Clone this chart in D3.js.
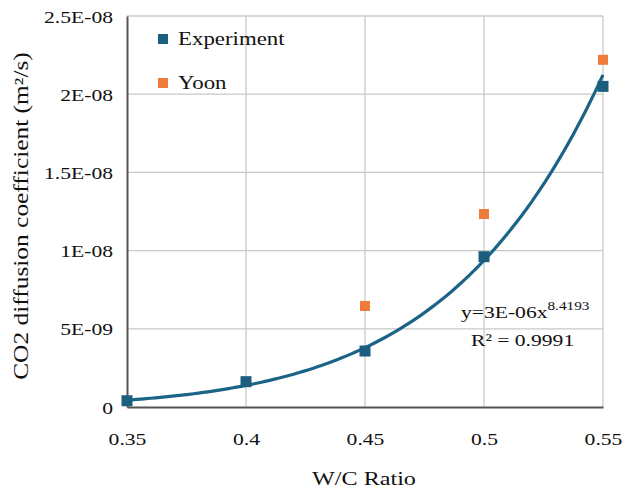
<!DOCTYPE html>
<html>
<head>
<meta charset="utf-8">
<script src="https://cdn.jsdelivr.net/npm/d3@7"></script>
<style>
  body { margin: 0; background: #fff; }
  text { font-family: "Liberation Serif", "Times New Roman", serif; fill: #111; }
</style>
</head>
<body>
<svg id="chart" width="623" height="488"></svg>
<script>
// data
const wcRatio = [0.35, 0.4, 0.45, 0.5, 0.55];
const experiment = [0.40e-9, 1.62e-9, 3.58e-9, 9.61e-9, 20.5e-9];
const yoonRatio = [0.45, 0.5, 0.55];
const yoon = [6.46e-9, 12.34e-9, 22.2e-9];
const xTicks = [0.35, 0.4, 0.45, 0.5, 0.55];
const yTicks = [0, 5e-9, 1e-8, 1.5e-8, 2e-8, 2.5e-8];
const yTickLabels = ["0", "5E-09", "1E-08", "1.5E-08", "2E-08", "2.5E-08"];

const svg = d3.select("#chart");
const margin = { left: 127, right: 20, top: 16, bottom: 81 };
const width = 623 - margin.left - margin.right;
const height = 488 - margin.top - margin.bottom;
const stretch = 1.27; // the fonts in the picture are drawn wide

const x = d3.scaleLinear().domain([0.35, 0.55]).range([0, width]);
const y = d3.scaleLinear().domain([0, 2.5e-8]).range([height, 0]);

const g = svg.append("g")
    .attr("transform", `translate(${margin.left},${margin.top})`);

// grid
g.append("g")
    .selectAll("line")
    .data(xTicks.slice(1))
    .enter()
    .append("line")
    .attr("x1", d => x(d)).attr("x2", d => x(d))
    .attr("y1", 0).attr("y2", height)
    .attr("stroke", "#c9c9c9").attr("stroke-width", 1.3);

g.append("g")
    .selectAll("line")
    .data(yTicks.slice(1))
    .enter()
    .append("line")
    .attr("x1", 0).attr("x2", width)
    .attr("y1", d => y(d)).attr("y2", d => y(d))
    .attr("stroke", "#c9c9c9").attr("stroke-width", 1.3);

// axes
const xAxis = g.append("g")
    .attr("transform", `translate(0,${height})`)
    .call(d3.axisBottom(x).tickValues(xTicks).tickSize(0).tickPadding(0).tickFormat(d3.format("")));
const yAxis = g.append("g")
    .call(d3.axisLeft(y).tickValues(yTicks).tickSize(0).tickFormat((d, i) => yTickLabels[i]));

[xAxis, yAxis].forEach(a => {
    a.select(".domain").attr("stroke", "#555").attr("stroke-width", 2);
    a.selectAll("text").attr("font-size", 17).attr("fill", "#111")
        .attr("font-family", "Liberation Serif, serif");
});
xAxis.selectAll(".tick text")
    .attr("dy", null).attr("y", null)
    .attr("text-anchor", "middle")
    .attr("transform", `translate(0,38) scale(${stretch},1)`);
yAxis.selectAll(".tick text")
    .attr("x", null).attr("dy", null)
    .attr("text-anchor", "end")
    .attr("transform", `translate(-14,6) scale(${stretch},1)`);

// power trendline fitted on the experiment points (log-log least squares)
const lx = wcRatio.map(Math.log), ly = experiment.map(Math.log);
const mx = d3.mean(lx), my = d3.mean(ly);
const b = d3.sum(lx, (v, i) => (v - mx) * (ly[i] - my)) / d3.sum(lx, v => (v - mx) * (v - mx));
const a = Math.exp(my - b * mx);
const curveX = d3.range(0.35, 0.5501, 0.002);

g.append("path")
    .datum(curveX)
    .attr("fill", "none")
    .attr("stroke", "#1b6487")
    .attr("stroke-width", 3.2)
    .attr("d", d3.line().x(d => x(d)).y(d => y(a * Math.pow(d, b))));

// markers
g.append("g")
    .selectAll("rect")
    .data(wcRatio)
    .enter()
    .append("rect")
    .attr("x", d => x(d) - 5.5)
    .attr("y", (d, i) => y(experiment[i]) - 5.5)
    .attr("width", 11).attr("height", 11)
    .attr("fill", "#1b5e80");

g.append("g")
    .selectAll("rect")
    .data(yoonRatio)
    .enter()
    .append("rect")
    .attr("x", d => x(d) - 5)
    .attr("y", (d, i) => y(yoon[i]) - 5)
    .attr("width", 10).attr("height", 10)
    .attr("fill", "#ef7b3b");

// legend
const legend = svg.append("g").attr("transform", "translate(158,39)");
[["Experiment", "#1b5e80"], ["Yoon", "#ef7b3b"]].forEach((item, i) => {
    const row = legend.append("g").attr("transform", `translate(0,${i * 44})`);
    row.append("rect").attr("x", 0).attr("y", -5).attr("width", 10).attr("height", 10).attr("fill", item[1]);
    row.append("text")
        .attr("transform", `translate(20,6) scale(${stretch},1)`)
        .attr("font-size", 18)
        .text(item[0]);
});

// equation
const eq = svg.append("text")
    .attr("transform", `translate(461,318) scale(${stretch},1)`)
    .attr("font-size", 17);
eq.append("tspan").text("y=3E-06x");
eq.append("tspan").attr("font-size", 12).attr("dy", -8).text("8.4193");
svg.append("text")
    .attr("transform", `translate(471,346) scale(${stretch},1)`)
    .attr("font-size", 17)
    .text("R² = 0.9991");

// axis titles
svg.append("text")
    .attr("transform", `translate(364,485) scale(${stretch},1)`)
    .attr("text-anchor", "middle")
    .attr("font-size", 19)
    .text("W/C Ratio");
svg.append("text")
    .attr("transform", `translate(28,216) rotate(-90) scale(${stretch},1)`)
    .attr("text-anchor", "middle")
    .attr("font-size", 20)
    .text("CO2 diffusion coefficient (m²/s)");
</script>
</body>
</html>
